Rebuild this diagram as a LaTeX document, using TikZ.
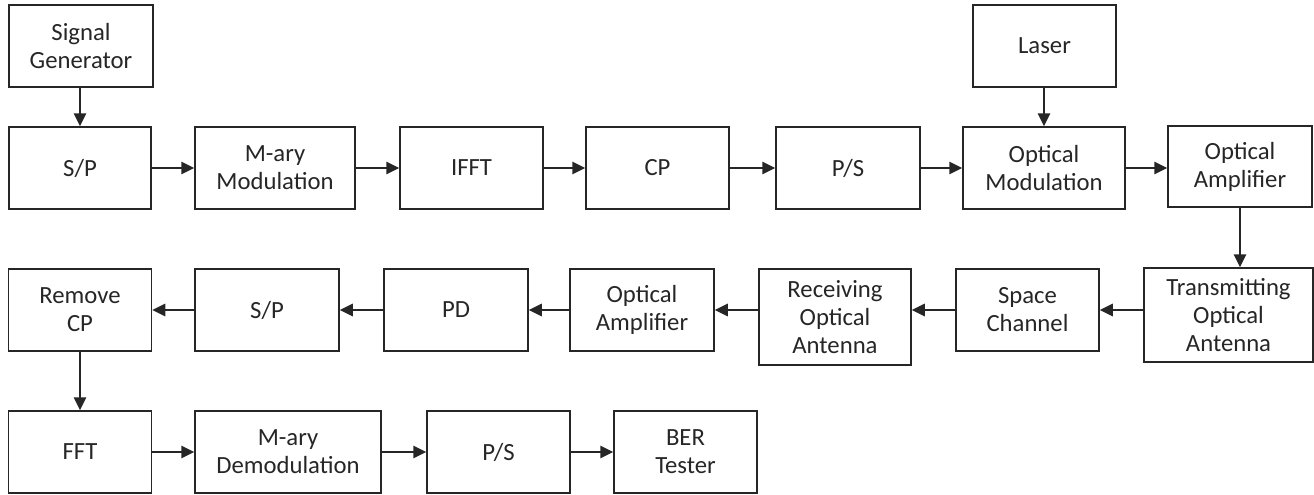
\documentclass[tikz,border=0pt]{standalone}
\usepackage{fontspec}
\setmainfont{Carlito}
\usetikzlibrary{arrows.meta}
\begin{document}
\begin{tikzpicture}[x=1pt,y=-1pt,
  blk/.style={draw=black!85,line width=1.5pt,text=black!85,align=center,inner sep=0pt,
    font=\fontsize{24.7}{28}\selectfont},
  arr/.style={draw=black!85,line width=1.5pt,-{Triangle[length=13pt,width=12.5pt]}}]
\useasboundingbox (0,0) rectangle (1314,495);
\newcommand{\blkat}[6]{\node[blk,minimum width=#4pt,minimum height=#5pt] (#1) at (#2,#3) {#6};}
\blkat{sg}{81}{46}{144}{82}{Signal\\Generator}
\blkat{laser}{1044.5}{46}{143}{82}{Laser}
\blkat{spa}{80}{168}{142}{82}{S/P}
\blkat{mod}{275}{168}{160}{82}{M-ary\\Modulation}
\blkat{ifft}{471.5}{168}{143}{82}{IFFT}
\blkat{cp}{657.5}{168}{143}{82}{CP}
\blkat{psa}{848}{168}{144}{82}{P/S}
\blkat{om}{1044}{168}{162}{82}{Optical\\Modulation}
\blkat{oa}{1240}{166.5}{144}{81}{Optical\\Amplifier}
\blkat{rcp}{80}{310}{143}{82}{Remove\\CP}
\blkat{spb}{267}{310}{144}{82}{S/P}
\blkat{pd}{456}{310}{144}{82}{PD}
\blkat{oab}{642}{310}{144}{82}{Optical\\Amplifier}
\blkat{roa}{835}{317}{152}{96}{Receiving\\Optical\\Antenna}
\blkat{sc}{1027.5}{310}{143}{82}{Space\\Channel}
\blkat{toa}{1228.5}{315}{169}{94}{Transmitting\\Optical\\Antenna}
\blkat{fft}{80}{452}{143}{82}{FFT}
\blkat{dem}{288}{452}{186}{82}{M-ary\\Demodulation}
\blkat{psb}{498.5}{452}{143}{82}{P/S}
\blkat{ber}{685.5}{452}{143}{82}{BER\\Tester}
% arrows
\draw[arr] (sg.south -| spa.north) -- (spa.north);
\draw[arr] (laser.south -| om.north) -- (om.north);
\draw[arr] (spa.east) -- (mod.west);
\draw[arr] (mod.east) -- (ifft.west);
\draw[arr] (ifft.east) -- (cp.west);
\draw[arr] (cp.east) -- (psa.west);
\draw[arr] (psa.east) -- (om.west);
\draw[arr] (om.east) -- (om.east -| oa.west);
\draw[arr] (oa.south) -- (oa.south |- toa.north);
\draw[arr] (toa.west |- sc.east) -- (sc.east);
\draw[arr] (sc.west) -- (sc.west -| roa.east);
\draw[arr] (roa.west |- oab.east) -- (oab.east);
\draw[arr] (oab.west) -- (pd.east);
\draw[arr] (pd.west) -- (spb.east);
\draw[arr] (spb.west) -- (rcp.east);
\draw[arr] (rcp.south) -- (fft.north);
\draw[arr] (fft.east) -- (dem.west);
\draw[arr] (dem.east) -- (psb.west);
\draw[arr] (psb.east) -- (ber.west);
\end{tikzpicture}
\end{document}
